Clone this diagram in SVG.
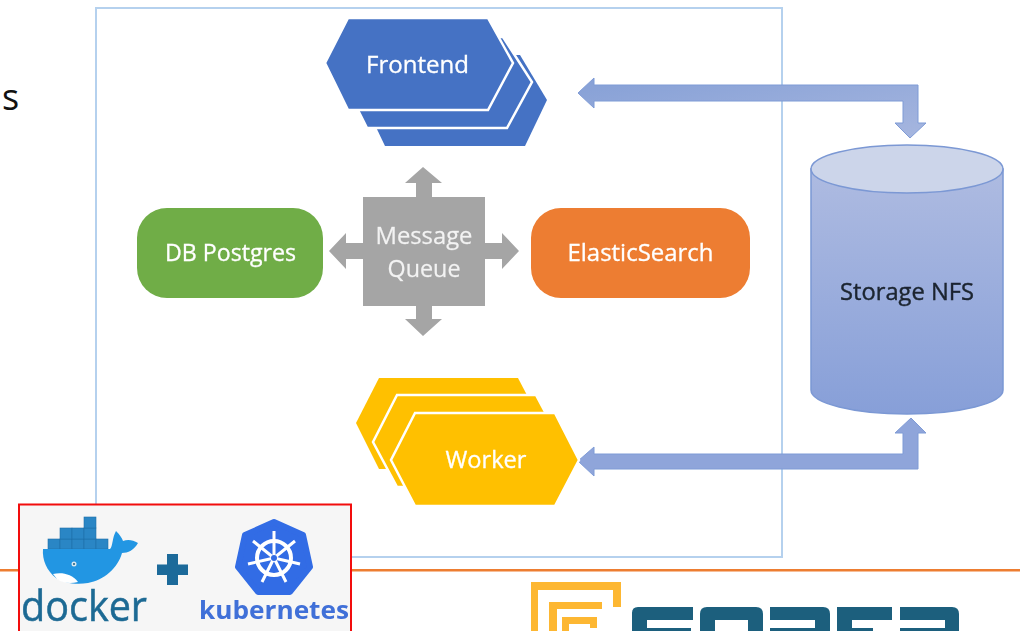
<svg xmlns="http://www.w3.org/2000/svg" width="1020" height="631" viewBox="0 0 1020 631">
  <defs>
    <linearGradient id="cyl" x1="0" y1="0" x2="0" y2="1">
      <stop offset="0" stop-color="#aebbe1"/>
      <stop offset="1" stop-color="#879fd8"/>
    </linearGradient>
    <linearGradient id="arrowTop" x1="0" y1="0" x2="1" y2="1">
      <stop offset="0" stop-color="#86a0d6"/>
      <stop offset="1" stop-color="#a6b6df"/>
    </linearGradient>
    <filter id="soft" x="-5%" y="-5%" width="110%" height="110%"><feGaussianBlur stdDeviation="0.55"/></filter>
  </defs>
  <style>
    text { font-family: "Open Sans", "Noto Sans", "Liberation Sans", sans-serif; }
    .lbl { font-size: 23px; fill: #ffffff; stroke: #ffffff; stroke-width: 0.3; text-anchor: middle; }
    .blue { fill: #4472c4; stroke: #ffffff; stroke-width: 2.5; }
    .gold { fill: #ffc000; stroke: #ffffff; stroke-width: 2.5; }
    .arrow { stroke: #7f9bd6; stroke-width: 1; }
    .y { fill: #fdb733; }
    .t { fill: #1a5f7d; }
    .box { fill: #2a86c5; stroke: #1f6fa8; stroke-width: 0.6; }
  </style>

  <rect id="frame" x="96" y="8" width="686" height="549" fill="none" stroke="#b5d1ee" stroke-width="2"/>
  <rect id="footer-line" x="0" y="569" width="1020" height="2.5" fill="#ed7d31"/>
  <text id="fragment" x="2" y="110" font-size="36" fill="#111111">s</text>

  <g id="connectors" filter="url(#soft)">
    <path class="arrow" fill="url(#arrowTop)" d="M578,93 L594,78 L594,85 L918,85 L918,123 L926,123 L910,138 L895,123 L903,123 L903,101 L594,101 L594,108 Z"/>
    <path class="arrow" fill="#8fa5da" d="M578,461 L594,447 L594,454 L903,454 L903,433 L895,433 L911,418 L926,433 L918,433 L918,469 L594,469 L594,476 Z"/>
  </g>

  <g id="frontend" filter="url(#soft)">
    <path class="blue" style="stroke:none" d="M385,146 L525,146 L547,100 L520,55 L400,55 L363,100 Z"/>
    <path class="blue" d="M367,128 L507,128 L532,82 L503,37 L365,37 L344,82 Z"/>
    <path class="blue" d="M348,110 L488,110 L513,63 L488,18 L348,18 L325,63 Z"/>
    <text class="lbl" x="417.500" y="73" textLength="103" lengthAdjust="spacingAndGlyphs">Frontend</text>
  </g>

  <g id="worker" filter="url(#soft)">
    <path class="gold" style="stroke:none" d="M379,378 L518,378 L540,420 L500,469 L385,469 L379,469 L356,423 Z"/>
    <path class="gold" d="M397,395 L536,395 L560,440 L520,487 L397,487 L373,442 Z"/>
    <path class="gold" d="M415,413 L555,413 L579,460 L555,506 L415,506 L391,460 Z"/>
    <text class="lbl" x="486" y="468" textLength="81" lengthAdjust="spacingAndGlyphs">Worker</text>
  </g>

  <g id="message-queue" filter="url(#soft)">
    <path fill="#a5a5a5" d="M363,197 L416,197 L416,183 L405,183 L423,167 L442,183 L432,183 L432,197 L485,197 L485,243 L502,243 L502,233 L519,251 L502,269 L502,259 L485,259 L485,306 L432,306 L432,319 L442,319 L423,336 L405,319 L416,319 L416,306 L363,306 L363,259 L346,259 L346,269 L329,251 L346,233 L346,243 L363,243 Z"/>
    <text class="lbl" x="424" y="244" fill-opacity="0.85" stroke-opacity="0.6" textLength="97" lengthAdjust="spacingAndGlyphs">Message</text>
    <text class="lbl" x="424" y="277" fill-opacity="0.85" stroke-opacity="0.6" textLength="73" lengthAdjust="spacingAndGlyphs">Queue</text>
  </g>

  <g id="db-postgres" filter="url(#soft)">
    <rect x="137" y="208" width="186" height="90" rx="30" fill="#70ad47"/>
    <text class="lbl" x="230.500" y="261" textLength="131" lengthAdjust="spacingAndGlyphs">DB Postgres</text>
  </g>

  <g id="elasticsearch" filter="url(#soft)">
    <rect x="531" y="208" width="219" height="90" rx="30" fill="#ed7d31"/>
    <text class="lbl" x="640.500" y="261" textLength="146" lengthAdjust="spacingAndGlyphs">ElasticSearch</text>
  </g>

  <g id="storage-nfs" filter="url(#soft)">
    <path fill="url(#cyl)" stroke="#7b98d4" stroke-width="1.5" d="M811,169 L811,390 A96,24 0 0 0 1003,390 L1003,169 Z"/>
    <ellipse cx="907" cy="169" rx="96" ry="24" fill="#ccd5ea" stroke="#7b98d4" stroke-width="1.5"/>
    <text x="907" y="300" font-size="23" fill="#1c2530" stroke="#1c2530" stroke-width="0.4" text-anchor="middle" textLength="134" lengthAdjust="spacingAndGlyphs">Storage NFS</text>
  </g>

  <g id="tools-logos">
    <rect x="19" y="504.500" width="332" height="140" fill="#f6f6f6" stroke="#f20d0d" stroke-width="2"/>
    <g filter="url(#soft)">
      <rect class="box" x="48" y="539" width="12" height="10"/>
      <rect class="box" x="60" y="539" width="12" height="10"/>
      <rect class="box" x="72" y="539" width="12" height="10"/>
      <rect class="box" x="84" y="539" width="12" height="10"/>
      <rect class="box" x="96" y="539" width="12" height="10"/>
      <rect class="box" x="60" y="528" width="12" height="11"/>
      <rect class="box" x="72" y="528" width="12" height="11"/>
      <rect class="box" x="84" y="528" width="12" height="11"/>
      <rect class="box" x="84" y="517" width="12" height="11"/>
      <path fill="#2496e3" d="M43,549 L110,549 C113,546 112,538 116,531 C120,535 122,538 123,541 C128,539 133,540 138,543 C134,550 128,553 122,553 C118,568 104,580 88,583 C76,585 64,583 56,578 C47,571 42,560 43,549 Z"/>
      <path fill="#ffffff" d="M53,574 C62,572 72,574 78,582 C70,584 62,583 57,579 Z"/>
      <circle cx="74" cy="564" r="2.500" fill="#d8e6ee"/>
      <circle cx="74" cy="564" r="1" fill="#1d5c7f"/>
      <path fill="#1a6a9a" d="M167,554 H178 V564.500 H188 V575 H178 V585 H167 V575 H157 V564.500 H167 Z"/>
      <path fill="#326ce5" stroke="#326ce5" stroke-width="6" stroke-linejoin="round" d="M274,522 L303,535 L310,567 L290,592 L258,592 L238,567 L245,535 Z"/>
      <g stroke="#ffffff" fill="none" stroke-width="3">
        <circle cx="274" cy="558" r="17" stroke-width="4"/>
        <path d="M274,558 V531 M274,558 L295,541 M274,558 L300,564 M274,558 L286,582 M274,558 L262,582 M274,558 L248,564 M274,558 L253,541"/>
      </g>
      <circle cx="274" cy="558" r="3" fill="#326ce5"/>
      <text x="21" y="621" font-size="42" fill="#1d6a94" stroke="#1d6a94" stroke-width="0.5" textLength="126" lengthAdjust="spacingAndGlyphs">docker</text>
      <text x="199" y="619" font-size="25" font-weight="700" fill="#3f6fd8" textLength="150" lengthAdjust="spacingAndGlyphs">kubernetes</text>
    </g>
  </g>

  <g id="company-logo" filter="url(#soft)">
    <path class="y" d="M531,582 H621 V607 H613 V590 H538 V631 H531 Z"/>
    <path class="y" d="M549,602 H602 V609 H557 V631 H549 Z"/>
    <path class="y" d="M562,617 H597 V628 H590 V624 H569 V631 H562 Z"/>
    <path class="t" d="M638,607 H693 V620 H647 V628 H691 V631 H632 V613 Q632,607 638,607 Z"/>
    <path class="t" d="M707,607 H756 Q763,607 763,614 V631 H748 V620 H715 V631 H700 V614 Q700,607 707,607 Z"/>
    <path class="t" d="M770,607 H823 Q830,607 830,614 V631 H815 V620 H770 Z M770,628 H815 V631 H770 Z"/>
    <path class="t" d="M837,607 H892 V620 H852 V628 H873 V631 H837 Z"/>
    <path class="t" d="M900,607 H952 Q959,607 959,614 V631 H945 V620 H900 Z M900,628 H945 V631 H900 Z"/>
  </g>
</svg>
